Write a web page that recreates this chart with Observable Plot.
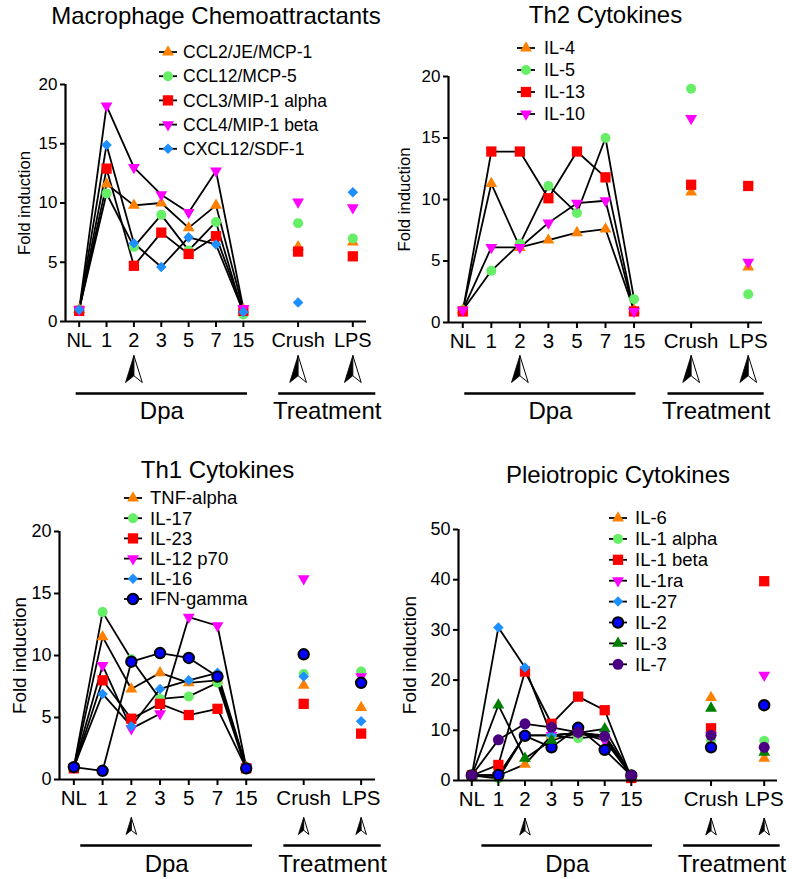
<!DOCTYPE html>
<html>
<head>
<meta charset="utf-8">
<script src="https://cdn.jsdelivr.net/npm/d3@7"></script>
<script src="https://cdn.jsdelivr.net/npm/@observablehq/plot@0.6"></script>
<style>
  body { margin: 0; background: #fff; }
  #fig { position: relative; width: 798px; height: 879px; background: #fff; }
  .panel { position: absolute; }
</style>
</head>
<body>
<div id="fig"></div>
<script>
// ---------- shared labels ----------
const dpaLabels = ["NL", "1", "2", "3", "5", "7", "15"];
const treatLabels = ["Crush", "LPS"];
const arrowLabels = ["2", "Crush", "LPS"];
const phaseLabels = ["Dpa", "Treatment"];
const yTicks20 = [0, 5, 10, 15, 20];
const yTicks50 = [0, 10, 20, 30, 40, 50];
const yLabel = "Fold induction";
const panelTitles = ["Macrophage Chemoattractants", "Th2 Cytokines", "Th1 Cytokines", "Pleiotropic Cytokines"];

// ---------- Macrophage chemoattractants ----------
const macroNames = ["CCL2/JE/MCP-1", "CCL12/MCP-5", "CCL3/MIP-1 alpha", "CCL4/MIP-1 beta", "CXCL12/SDF-1"];
const ccl2Dpa   = [1.0, 11.6, 9.8, 10.0, 7.9, 9.8, 1.0];
const ccl12Dpa  = [1.0, 10.8, 6.3, 9.0, 6.0, 8.4, 0.6];
const ccl3Dpa   = [0.9, 12.9, 4.7, 7.5, 5.7, 7.2, 0.9];
const ccl4Dpa   = [1.0, 18.2, 13.0, 10.7, 9.2, 12.7, 1.1];
const cxcl12Dpa = [1.0, 14.9, 6.6, 4.6, 7.1, 6.5, 0.8];
const ccl2Treat   = [6.3, 6.7];
const ccl12Treat  = [8.3, 7.0];
const ccl3Treat   = [5.9, 5.5];
const ccl4Treat   = [10.1, 9.6];
const cxcl12Treat = [1.6, 10.9];

// ---------- Th2 cytokines ----------
const th2Names = ["IL-4", "IL-5", "IL-13", "IL-10"];
const il4Dpa  = [1.0, 11.3, 6.1, 6.7, 7.3, 7.6, 1.0];
const il5Dpa  = [1.0, 4.2, 6.4, 11.1, 8.9, 15.0, 1.9];
const il13Dpa = [0.9, 13.9, 13.9, 10.1, 13.9, 11.8, 0.9];
const il10Dpa = [1.0, 6.1, 6.1, 8.1, 9.7, 9.9, 0.9];
const il4Treat  = [10.6, 4.5];
const il5Treat  = [19.0, 2.3];
const il13Treat = [11.2, 11.1];
const il10Treat = [16.6, 4.9];

// ---------- Th1 cytokines ----------
const th1Names = ["TNF-alpha", "IL-17", "IL-23", "IL-12 p70", "IL-16", "IFN-gamma"];
const tnfDpa  = [1.0, 11.5, 7.3, 8.6, 7.8, 8.0, 1.0];
const il17Dpa = [1.0, 13.5, 9.7, 6.5, 6.7, 7.8, 0.8];
const il23Dpa = [0.9, 8.0, 4.9, 6.1, 5.2, 5.7, 0.9];
const il12Dpa = [1.0, 9.2, 4.1, 5.3, 13.1, 12.4, 1.0];
const il16Dpa = [1.0, 6.9, 4.3, 7.3, 8.0, 8.6, 1.0];
const ifnDpa  = [1.0, 0.7, 9.5, 10.2, 9.8, 8.3, 0.9];
const tnfTreat  = [7.6, 5.8];
const il17Treat = [8.5, 8.7];
const il23Treat = [6.1, 3.7];
const il12Treat = [16.2, 8.3];
const il16Treat = [8.3, 4.7];
const ifnTreat  = [10.1, 7.8];

// ---------- Pleiotropic cytokines ----------
const pleioNames = ["IL-6", "IL-1 alpha", "IL-1 beta", "IL-1ra", "IL-27", "IL-2", "IL-3", "IL-7"];
const il6Dpa   = [1.0, 1.0, 3.2, 9.0, 9.5, 9.0, 1.0];
const il1aDpa  = [1.0, 0.4, 9.0, 9.0, 8.4, 9.0, 1.0];
const il1bDpa  = [1.0, 3.1, 21.7, 11.3, 16.7, 14.0, 0.5];
const il1raDpa = [1.0, 1.0, 9.0, 9.0, 9.5, 8.0, 1.0];
const il27Dpa  = [1.0, 30.5, 22.5, 9.0, 9.5, 8.5, 1.0];
const il2Dpa   = [1.0, 1.1, 8.9, 6.6, 10.5, 6.1, 1.0];
const il3Dpa   = [1.0, 15.0, 4.4, 8.0, 9.5, 10.3, 1.0];
const il7Dpa   = [1.0, 8.1, 11.3, 10.6, 9.6, 8.8, 1.0];
const il6Treat   = [16.5, 4.4];
const il1aTreat  = [8.0, 7.9];
const il1bTreat  = [10.4, 39.7];
const il1raTreat = [9.0, 21.0];
const il27Treat  = [9.0, 6.6];
const il2Treat   = [6.6, 15.0];
const il3Treat   = [14.4, 5.6];
const il7Treat   = [9.0, 6.6];

// ---------- styles ----------
const FONT = '"Liberation Sans", Arial, Helvetica, sans-serif';
const ORANGE = "#FF8000", LGREEN = "#66EE66", RED = "#FF0000", MAGENTA = "#FF00FF",
      DBLUE = "#1E8FFF", NAVY = "#0000FF", DGREEN = "#008000", INDIGO = "#4B0082";
const S = {
  orangeTri: {symbol: "triangle", fill: ORANGE, r: 4.4},
  greenDot:  {symbol: "circle", fill: LGREEN, r: 5},
  redSq:     {symbol: "square", fill: RED, r: 5.8},
  magDown:   {symbol: "triangle", fill: MAGENTA, r: 4.4, rotate: 180},
  blueDia:   {symbol: "square", fill: DBLUE, r: 4.2, rotate: 45},
  navyRing:  {symbol: "circle", fill: NAVY, r: 5.2, stroke: "#000", strokeWidth: 2},
  dgreenTri: {symbol: "triangle", fill: DGREEN, r: 4.4},
  indigoDot: {symbol: "circle", fill: INDIGO, r: 5.5}
};

const arrowLeft = {draw(ctx, size) {
  const h = Math.sqrt(size / Math.PI), w = h * 0.62;
  ctx.moveTo(0, -h); ctx.lineTo(-w, h); ctx.lineTo(0, h * 0.5); ctx.closePath();
}};
const arrowRight = {draw(ctx, size) {
  const h = Math.sqrt(size / Math.PI), w = h * 0.62;
  ctx.moveTo(0, -h); ctx.lineTo(w, h); ctx.lineTo(0, h * 0.5); ctx.closePath();
}};

const panels = [
  {title: panelTitles[0], left: 0, top: 0, width: 399, height: 425, m: [65, 33, 84, 104],
   xMax: 10.5, yMax: 20, yTicks: yTicks20, treatSlots: [8, 10],
   names: macroNames,
   dpa: [ccl2Dpa, ccl12Dpa, ccl3Dpa, ccl4Dpa, cxcl12Dpa],
   treat: [ccl2Treat, ccl12Treat, ccl3Treat, ccl4Treat, cxcl12Treat],
   styles: [S.orangeTri, S.greenDot, S.redSq, S.magDown, S.blueDia],
   titleDy: -67.7, xFont: 20, yFont: 17, ylabDx: -40.5, ylabFont: 16.7,
   arrowR: 13.5, arrowDy: 47.5, bracketDy: 72, labelDy: 90.3,
   brackets: [[-0.11, 6.15], [7.29, 10.84]],
   legend: {x: 168, y0: 52, step: 24.2, size: 17.5, tdx: 15}},
  {title: panelTitles[1], left: 400, top: 0, width: 398, height: 425, m: [48, 36, 76, 103],
   xMax: 10.5, yMax: 20, yTicks: yTicks20, treatSlots: [8, 10],
   names: th2Names,
   dpa: [il4Dpa, il5Dpa, il13Dpa, il10Dpa],
   treat: [il4Treat, il5Treat, il13Treat, il10Treat],
   styles: [S.orangeTri, S.greenDot, S.redSq, S.magDown],
   titleDy: -60.7, xFont: 20.5, yFont: 17, ylabDx: -44, ylabFont: 16.7,
   arrowR: 13.5, arrowDy: 46.5, bracketDy: 71, labelDy: 89.3,
   brackets: [[0.07, 6.07], [7.19, 10.56]],
   legend: {x: 526, y0: 48, step: 22, size: 18, tdx: 18}},
  {title: panelTitles[2], left: 0, top: 430, width: 399, height: 449, m: [59, 24, 101, 100],
   xMax: 10.5, yMax: 20, yTicks: yTicks20, treatSlots: [8, 10],
   names: th1Names,
   dpa: [tnfDpa, il17Dpa, il23Dpa, il12Dpa, il16Dpa, ifnDpa],
   treat: [tnfTreat, il17Treat, il23Treat, il12Treat, il16Treat, ifnTreat],
   styles: [S.orangeTri, S.greenDot, S.redSq, S.magDown, S.blueDia, S.navyRing],
   titleDy: -60.7, xFont: 20.5, yFont: 18, ylabDx: -39.5, ylabFont: 18.8,
   arrowR: 8.5, arrowDy: 46.5, bracketDy: 66, labelDy: 85.3,
   brackets: [[0.24, 6.22], [7.31, 10.7]],
   legend: {x: 133, y0: 498, step: 20.2, size: 18.5, tdx: 17}},
  {title: panelTitles[3], left: 400, top: 430, width: 398, height: 449, m: [58, 21, 99, 99],
   xMax: 11.5, yMax: 50, yTicks: yTicks50, treatSlots: [9, 11],
   names: pleioNames,
   dpa: [il6Dpa, il1aDpa, il1bDpa, il1raDpa, il27Dpa, il2Dpa, il3Dpa, il7Dpa],
   treat: [il6Treat, il1aTreat, il1bTreat, il1raTreat, il27Treat, il2Treat, il3Treat, il7Treat],
   styles: [S.orangeTri, S.greenDot, S.redSq, S.magDown, S.blueDia, S.navyRing, S.dgreenTri, S.indigoDot],
   titleDy: -53.7, xFont: 20.5, yFont: 18, ylabDx: -49, ylabFont: 19,
   arrowR: 8.5, arrowDy: 46, bracketDy: 65, labelDy: 84.3,
   brackets: [[0.38, 6.8], [7.97, 11.6]],
   legend: {x: 618, y0: 518, step: 20.9, size: 18.5, tdx: 17}}
];

const fig = document.getElementById("fig");

function dotOpts(st) {
  const o = {symbol: st.symbol, fill: st.fill, r: st.r};
  if (st.rotate) o.rotate = st.rotate;
  if (st.stroke) { o.stroke = st.stroke; o.strokeWidth = st.strokeWidth; }
  return o;
}

function drawPanel(p) {
  const rows = [];
  p.names.forEach((name, si) => {
    p.dpa[si].forEach((v, i) => rows.push({name, si, slot: i, v, phase: 0}));
    p.treat[si].forEach((v, j) => rows.push({name, si, slot: p.treatSlots[j], v, phase: 1}));
  });
  const slotLabel = new Map([
    ...dpaLabels.map((l, i) => [i, l]),
    ...treatLabels.map((l, j) => [p.treatSlots[j], l])
  ]);
  const labelSlot = new Map([...slotLabel].map(([s, l]) => [l, s]));
  const tickSlots = [...slotLabel.keys()];
  const arrowSlots = arrowLabels.map(l => labelSlot.get(l));
  const brackets = phaseLabels.map((label, k) => ({label, a: p.brackets[k][0], b: p.brackets[k][1]}));
  const x0 = -0.5;

  const svg = Plot.plot({
    width: p.width, height: p.height,
    marginLeft: p.m[0], marginRight: p.m[1], marginTop: p.m[2], marginBottom: p.m[3],
    x: {type: "linear", domain: [x0, p.xMax], label: null},
    y: {type: "linear", domain: [0, p.yMax], label: null},
    style: {fontFamily: FONT, color: "#000", background: "none", overflow: "visible"},
    marks: [
      Plot.line(rows.filter(d => d.phase === 0), {x: "slot", y: "v", z: "name", stroke: "#000", strokeWidth: 1.8}),
      ...p.names.map((name, si) => Plot.dot(rows.filter(d => d.si === si), {x: "slot", y: "v", ...dotOpts(p.styles[si])})),
      Plot.ruleX([x0], {strokeWidth: 2.2}),
      Plot.ruleY([0], {strokeWidth: 2.2}),
      Plot.axisX(tickSlots, {tickFormat: s => slotLabel.get(s), tickSize: 6, tickPadding: 5, fontSize: p.xFont, strokeWidth: 2, label: null}),
      Plot.axisY(p.yTicks, {tickSize: 5, tickPadding: 3, fontSize: p.yFont, strokeWidth: 2, label: null}),
      Plot.dot(arrowSlots, {x: d => d, frameAnchor: "bottom", dy: p.arrowDy, symbol: arrowLeft, r: p.arrowR, fill: "#000", stroke: "#000", strokeWidth: 0.8}),
      Plot.dot(arrowSlots, {x: d => d, frameAnchor: "bottom", dy: p.arrowDy, symbol: arrowRight, r: p.arrowR, fill: "#fff", stroke: "#000", strokeWidth: 1}),
      Plot.ruleY(brackets, {x1: "a", x2: "b", y: 0, dy: p.bracketDy, strokeWidth: 2.6}),
      Plot.text(brackets, {x: d => (d.a + d.b) / 2, y: 0, dy: p.labelDy, text: "label", fontSize: 24, lineAnchor: "middle"}),
      Plot.text([p.title], {frameAnchor: "top", dy: p.titleDy, fontSize: 24, lineAnchor: "middle"}),
      Plot.text([yLabel], {frameAnchor: "left", rotate: -90, dx: p.ylabDx, fontSize: p.ylabFont, lineAnchor: "middle", textAnchor: "middle"})
    ]
  });
  const wrap = document.createElement("div");
  wrap.className = "panel";
  wrap.style.left = p.left + "px";
  wrap.style.top = p.top + "px";
  wrap.appendChild(svg);
  fig.appendChild(wrap);
}

panels.forEach(drawPanel);

// ---------- legends ----------
const symType = {triangle: d3.symbolTriangle, circle: d3.symbolCircle, square: d3.symbolSquare};
const overlay = d3.select(fig).append("svg")
  .attr("width", 798).attr("height", 879)
  .style("position", "absolute").style("left", "0px").style("top", "0px")
  .style("pointer-events", "none");

panels.forEach(p => {
  const L = p.legend;
  const g = overlay.append("g").attr("font-family", FONT).attr("font-size", L.size);
  p.names.forEach((name, si) => {
    const y = L.y0 + si * L.step, x = L.x, st = p.styles[si];
    g.append("line").attr("x1", x - 9).attr("x2", x + 9).attr("y1", y).attr("y2", y)
      .attr("stroke", "#000").attr("stroke-width", 1.8);
    g.append("path")
      .attr("d", d3.symbol(symType[st.symbol], Math.PI * st.r * st.r)())
      .attr("transform", `translate(${x},${y}) rotate(${st.rotate || 0})`)
      .attr("fill", st.fill)
      .attr("stroke", st.stroke || "none")
      .attr("stroke-width", st.strokeWidth || 0);
    g.append("text").attr("x", x + L.tdx).attr("y", y).attr("dy", "0.35em").attr("fill", "#000").text(name);
  });
});
</script>
</body>
</html>
